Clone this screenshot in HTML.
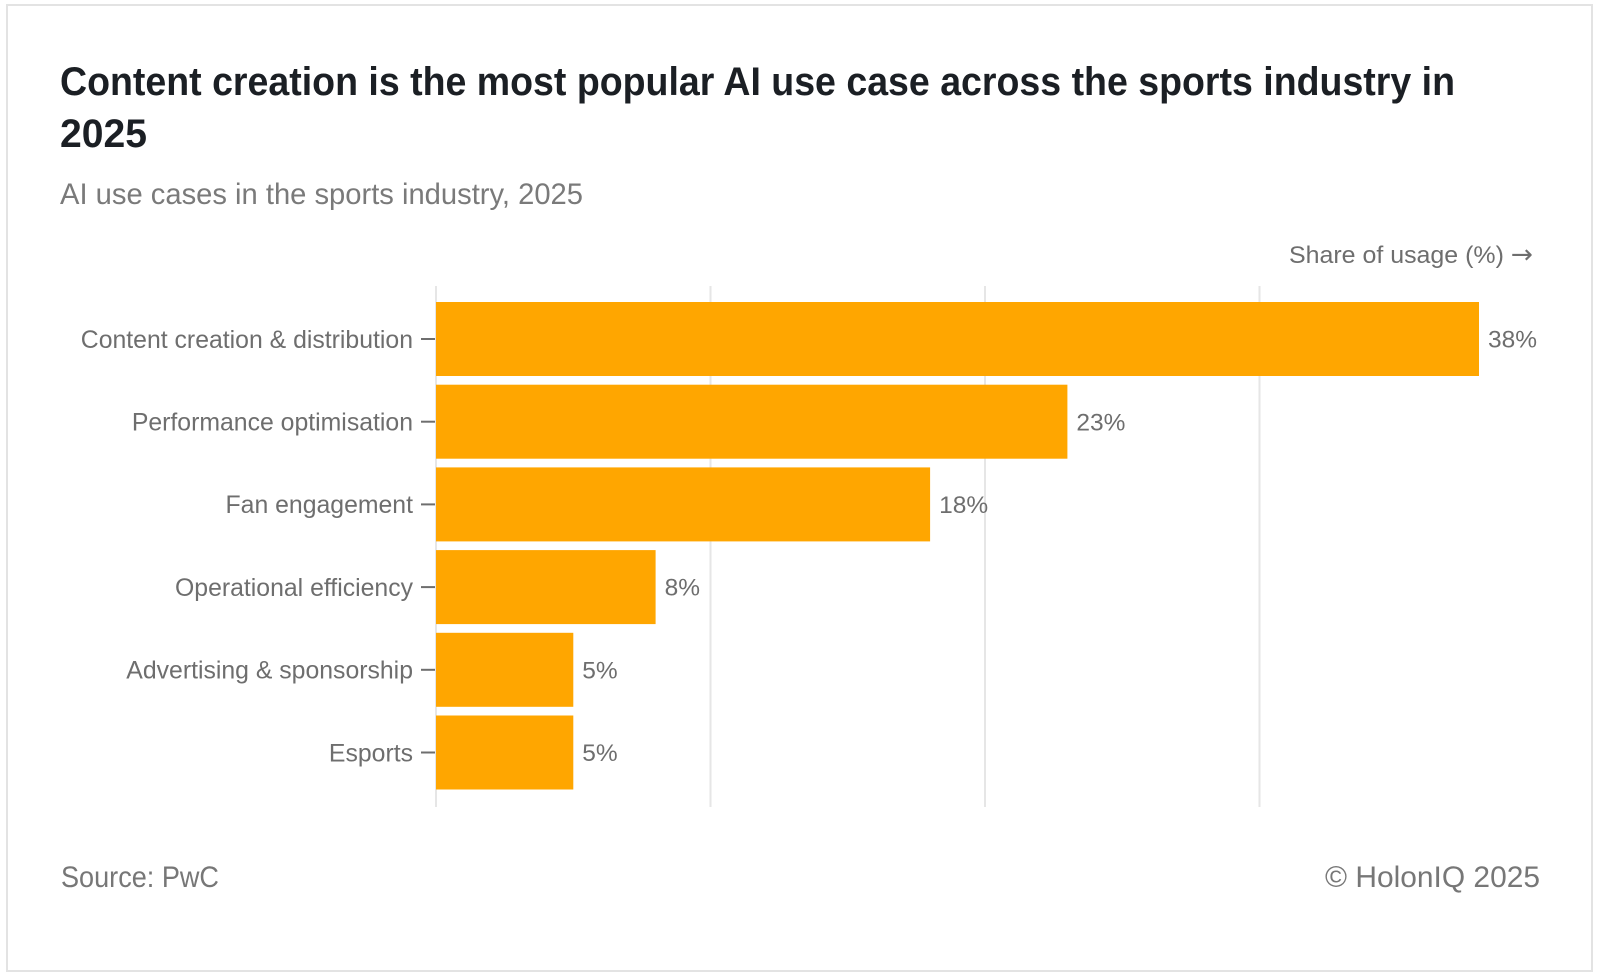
<!DOCTYPE html>
<html>
<head>
<meta charset="utf-8">
<style>
  html, body { margin: 0; padding: 0; background: #ffffff; }
  body { width: 1600px; height: 977px; overflow: hidden; }
  svg { display: block; }
  text { font-family: "Liberation Sans", "DejaVu Sans", sans-serif; }
</style>
</head>
<body>
<svg width="1600" height="977" viewBox="0 0 1600 977" xmlns="http://www.w3.org/2000/svg">
  <rect x="0" y="0" width="1600" height="977" fill="#ffffff"/>
  <!-- card border -->
  <rect x="7" y="5" width="1585" height="966" fill="#ffffff" stroke="#e3e3e3" stroke-width="2"/>

  <!-- title -->
  <text x="60" y="95" font-size="40" font-weight="bold" fill="#1b1f24" textLength="1395" lengthAdjust="spacingAndGlyphs">Content creation is the most popular AI use case across the sports industry in</text>
  <text x="60" y="147" font-size="40" font-weight="bold" fill="#1b1f24" textLength="87" lengthAdjust="spacingAndGlyphs">2025</text>

  <!-- subtitle -->
  <text x="60" y="204" font-size="30" fill="#7a7a7a" textLength="523" lengthAdjust="spacingAndGlyphs">AI use cases in the sports industry, 2025</text>

  <!-- axis title -->
  <text x="1289" y="263" font-size="24.5" fill="#6e6e6e" textLength="244" lengthAdjust="spacingAndGlyphs">Share of usage (%) <tspan font-family="DejaVu Sans, sans-serif" font-size="26">→</tspan></text>

  <!-- gridlines -->
  <g stroke="#e6e6e6" stroke-width="2">
    <line x1="436" y1="286" x2="436" y2="807"/>
    <line x1="710.5" y1="286" x2="710.5" y2="807"/>
    <line x1="985" y1="286" x2="985" y2="807"/>
    <line x1="1259.5" y1="286" x2="1259.5" y2="807"/>
  </g>

  <!-- bars -->
  <g fill="#ffa600">
    <rect x="436" y="302" width="1043" height="74"/>
    <rect x="436" y="384.7" width="631.4" height="74"/>
    <rect x="436" y="467.4" width="494.1" height="74"/>
    <rect x="436" y="550.1" width="219.6" height="74"/>
    <rect x="436" y="632.8" width="137.3" height="74"/>
    <rect x="436" y="715.5" width="137.3" height="74"/>
  </g>

  <!-- ticks -->
  <g stroke="#6e6e6e" stroke-width="2">
    <line x1="421" y1="339" x2="435" y2="339"/>
    <line x1="421" y1="421.7" x2="435" y2="421.7"/>
    <line x1="421" y1="504.4" x2="435" y2="504.4"/>
    <line x1="421" y1="587.1" x2="435" y2="587.1"/>
    <line x1="421" y1="669.8" x2="435" y2="669.8"/>
    <line x1="421" y1="752.5" x2="435" y2="752.5"/>
  </g>

  <!-- category labels -->
  <g font-size="24.8" fill="#6e6e6e" text-anchor="end">
    <text x="413" y="347.8">Content creation &amp; distribution</text>
    <text x="413" y="430.5">Performance optimisation</text>
    <text x="413" y="513.2">Fan engagement</text>
    <text x="413" y="595.9">Operational efficiency</text>
    <text x="413" y="678.6">Advertising &amp; sponsorship</text>
    <text x="413" y="761.3">Esports</text>
  </g>

  <!-- value labels -->
  <g font-size="24.5" fill="#6e6e6e">
    <text x="1488" y="347.6">38%</text>
    <text x="1076.4" y="430.3">23%</text>
    <text x="939.1" y="513">18%</text>
    <text x="664.6" y="595.7">8%</text>
    <text x="582.3" y="678.4">5%</text>
    <text x="582.3" y="761.1">5%</text>
  </g>

  <!-- footer -->
  <text x="61" y="887" font-size="30" fill="#777777" textLength="158" lengthAdjust="spacingAndGlyphs">Source: PwC</text>
  <text x="1325" y="887" font-size="30" fill="#777777" textLength="215" lengthAdjust="spacingAndGlyphs">© HolonIQ 2025</text>
</svg>
</body>
</html>
